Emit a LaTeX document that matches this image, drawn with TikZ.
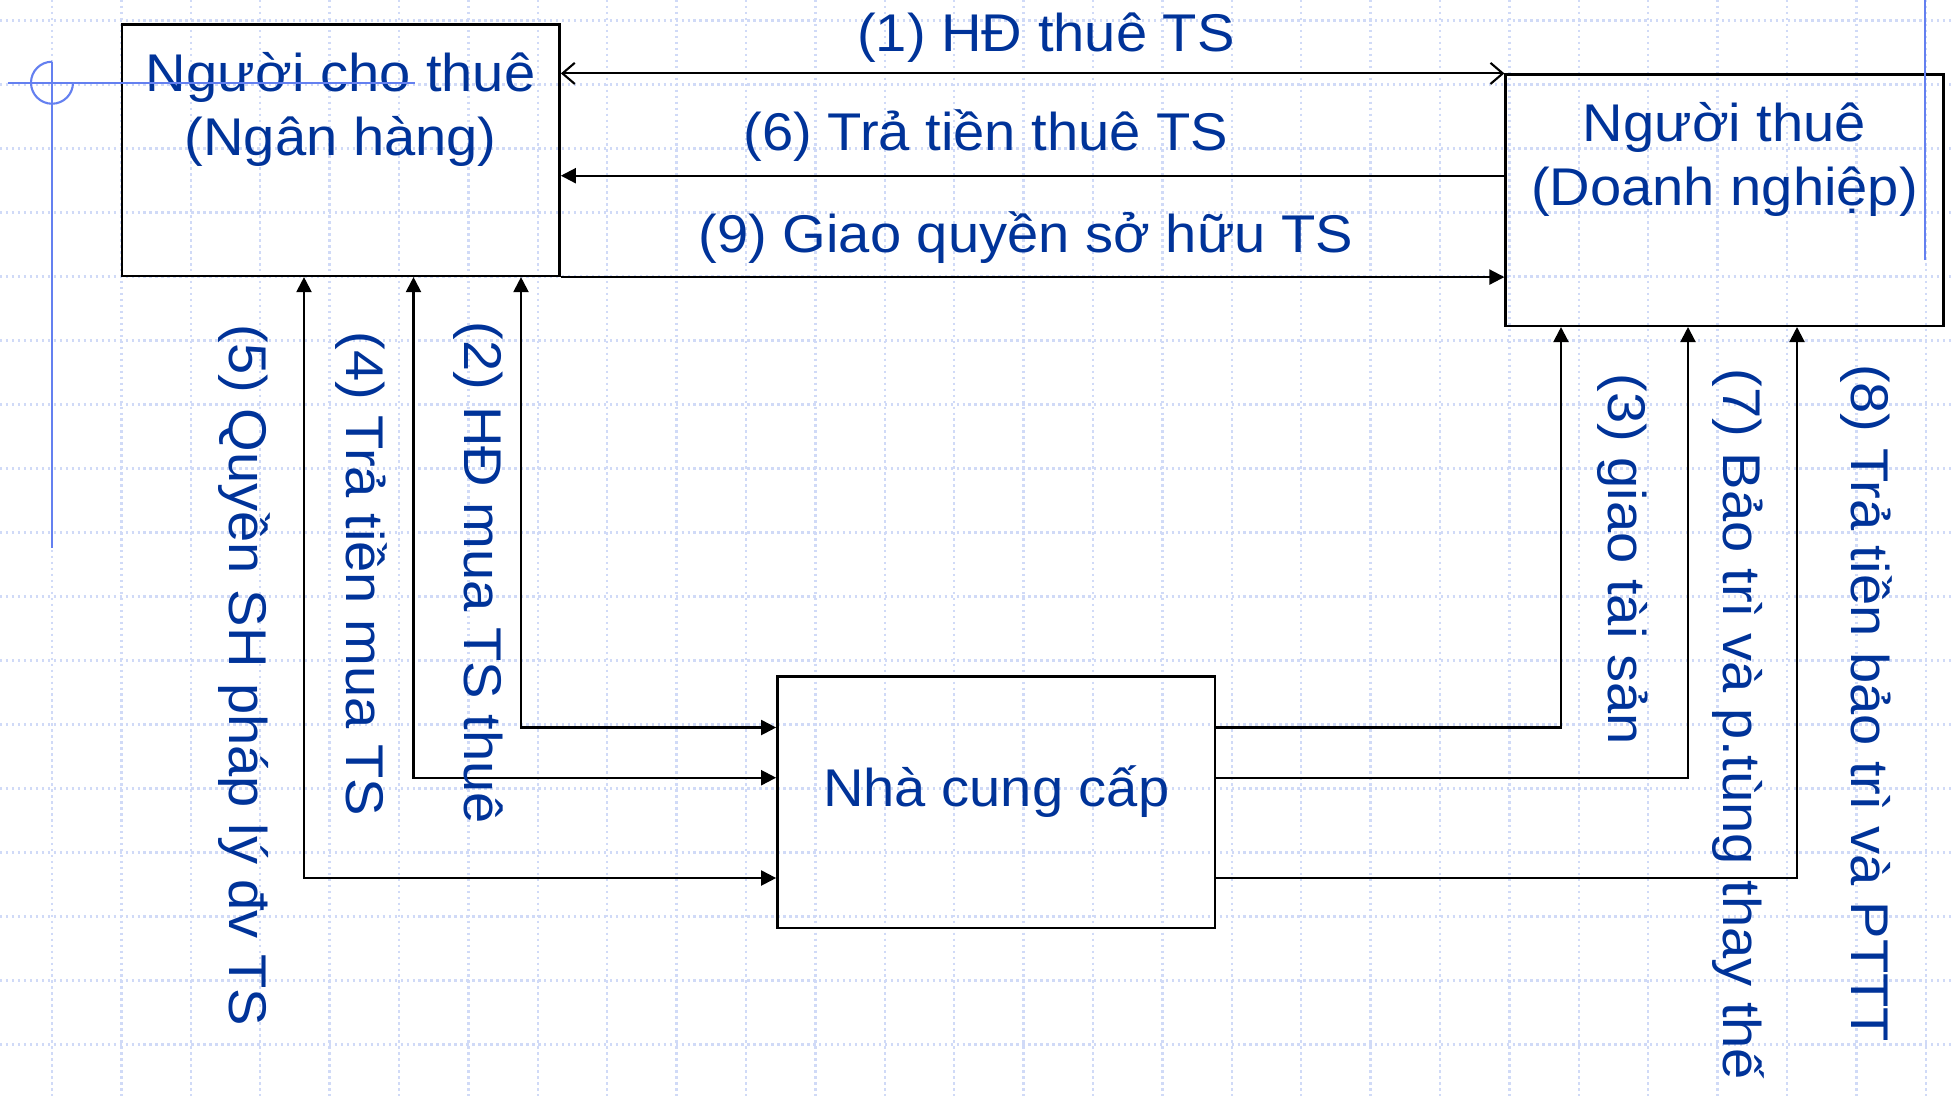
\documentclass[tikz,border=0pt]{standalone}
\usepackage{fontspec}
\setmainfont{Liberation Sans}[FakeStretch=1.057]
\usetikzlibrary{arrows.meta,calc}
\definecolor{txtblue}{RGB}{0,51,153}
\definecolor{gridblue}{RGB}{208,218,247}
\definecolor{markblue}{RGB}{100,128,240}
\begin{document}
\begin{tikzpicture}[x=0.01cm,y=-0.01cm,
  box/.style={draw,line width=0.7pt,minimum width=4.375cm,minimum height=2.51cm,inner sep=0pt},
  lbl/.style={text=txtblue,font=\fontsize{15.1pt}{18.2pt}\selectfont,inner sep=0pt,text height=11pt,text depth=3.17pt},
  boxtxt/.style={text=txtblue,font=\fontsize{15.1pt}{18.2pt}\selectfont,inner sep=0pt,align=center,anchor=base},
  conn/.style={line width=0.6pt,-{Triangle[length=4.3pt,width=4.3pt]}},
  conntwo/.style={line width=0.6pt,{Triangle[length=4.3pt,width=4.3pt]}-{Triangle[length=4.3pt,width=4.3pt]}},
  openarr/.style={line width=0.6pt,{Straight Barb[length=3.5pt,width=6pt]}-{Straight Barb[length=3.5pt,width=6pt]}},
  gridline/.style={gridblue,densely dotted,line width=0.7pt},
  crossline/.style={markblue,line width=0.6pt}]
\useasboundingbox (0,0) rectangle (1954,1096);
\fill[white] (0,0) rectangle (1954,1096);
% background grid
\foreach \k in {0,...,27} \draw[gridline] ({52+69.4*\k},0) -- ({52+69.4*\k},1096);
\foreach \k in {0,...,16} \draw[gridline] (0,{20.7+64*\k}) -- (1954,{20.7+64*\k});
% boxes
\node[box] (A) at (340.75,150.25) {};
\node[box] (B) at (1724.5,200.2) {};
\node[box] (C) at (996.25,802.25) {};
\node[boxtxt] (At) at (340.75,155) {Người cho thuê\\(Ngân hàng)};
\node[boxtxt] (Bt) at (1724.5,205) {Người thuê\\(Doanh nghiệp)};
\node[boxtxt] (Ct) at (996.25,806) {Nhà cung cấp};
% helper coordinates
\coordinate (yA) at (0,727.5);
\coordinate (yB) at (0,777.7);
\coordinate (yC) at (0,878);
\coordinate (x5) at (304,0);
\coordinate (x4) at (413.5,0);
\coordinate (x2) at (521,0);
\coordinate (x3) at (1561,0);
\coordinate (x7) at (1688,0);
\coordinate (x8) at (1797,0);
% connectors
\draw[openarr] (A.east |- B.north) -- (B.north west);
\draw[conn] ([yshift=0.245cm]B.west) -- ([yshift=0.245cm]B.west -| A.east);
\draw[conn] (A.south east) -- (A.south east -| B.west);
\draw[conntwo] (x2 |- A.south) |- (yA -| C.west);
\draw[conntwo] (x4 |- A.south) |- (yB -| C.west);
\draw[conntwo] (x5 |- A.south) |- (yC -| C.west);
\draw[conn] (yA -| C.east) -| (x3 |- B.south);
\draw[conn] (yB -| C.east) -| (x7 |- B.south);
\draw[conn] (yC -| C.east) -| (x8 |- B.south);
% labels
\node[lbl] (l1) at (1046,38) {(1) HĐ thuê TS};
\node[lbl] (l6) at (986,137) {(6) Trả tiền thuê TS};
\node[lbl] (l9) at (1026,239) {(9) Giao quyền sở hữu TS};
\node[lbl,rotate=-90] (l5) at (243,675.5) {(5) Quyền SH pháp lý đv TS};
\node[lbl,rotate=-90] (l4) at (360,574) {(4) Trả tiền mua TS};
\node[lbl,rotate=-90] (l2) at (478,573) {(2) HĐ mua TS thuê};
\node[lbl,rotate=-90] (l3) at (1622,559) {(3) giao tài sản};
\node[lbl,rotate=-90] (l7) at (1737,724.5) {(7) Bảo trì và p.tùng thay thế};
\node[lbl,rotate=-90] (l8) at (1865,703) {(8) Trả tiền bảo trì và PTTT};
% slide marks
\draw[crossline] (7.7,82.7) -- (415,82.7);
\draw[crossline] (52,61.7) -- (52,548);
\draw[crossline] (52,61.7) arc[start angle=90,end angle=360,radius=0.21cm];
\draw[crossline] (1925,0) -- (1925,260);
\end{tikzpicture}
\end{document}
